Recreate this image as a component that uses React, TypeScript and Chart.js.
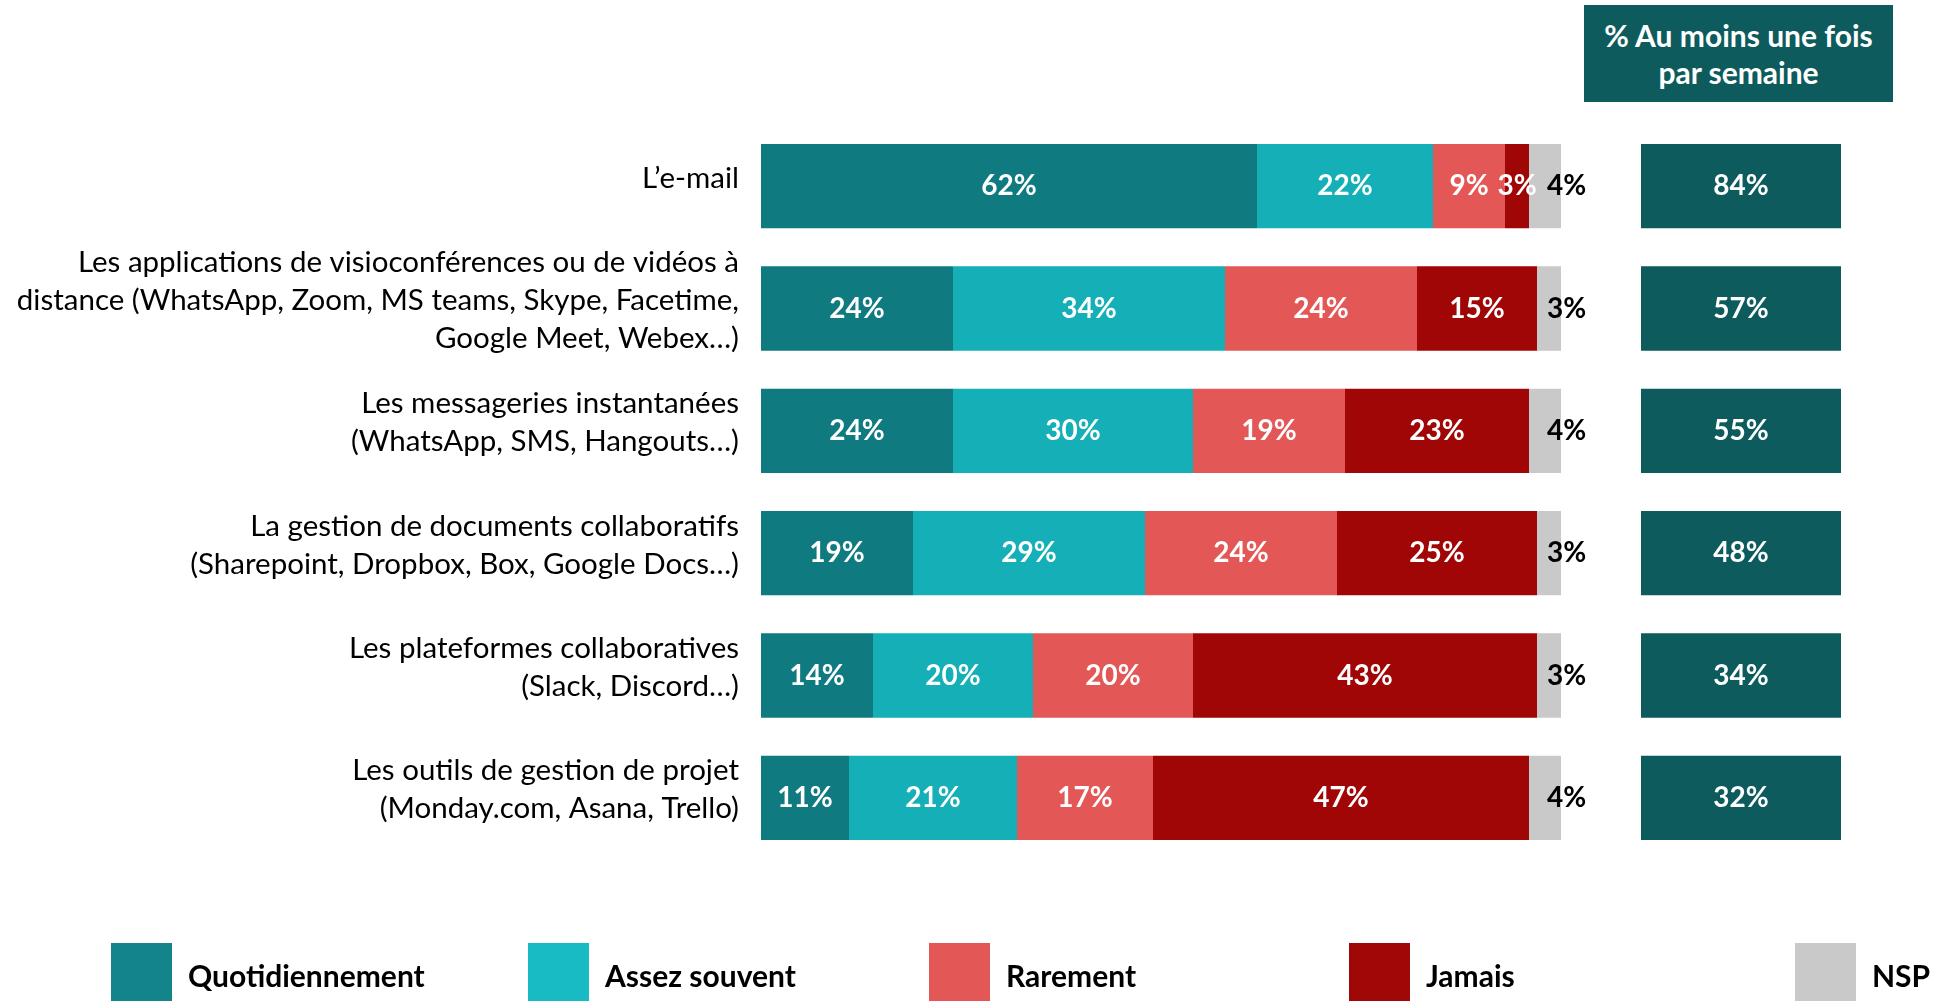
import React, { useEffect, useRef } from "react";
import { Chart, registerables } from "chart.js";

Chart.register(...registerables);

// ---------- data ----------
const CATEGORIES: string[][] = [
  ["L’e-mail"],
  [
    "Les applications de visioconférences ou de vidéos à",
    "distance (WhatsApp, Zoom, MS teams, Skype, Facetime,",
    "Google Meet, Webex…)",
  ],
  ["Les messageries instantanées", "(WhatsApp, SMS, Hangouts…)"],
  ["La gestion de documents collaboratifs", "(Sharepoint, Dropbox, Box, Google Docs…)"],
  ["Les plateformes collaboratives", "(Slack, Discord…)"],
  ["Les outils de gestion de projet", "(Monday.com, Asana, Trello)"],
];

const SERIES_NAMES = ["Quotidiennement", "Assez souvent", "Rarement", "Jamais", "NSP"];
const QUOTIDIENNEMENT = [62, 24, 24, 19, 14, 11];
const ASSEZ_SOUVENT = [22, 34, 30, 29, 20, 21];
const RAREMENT = [9, 24, 19, 24, 20, 17];
const JAMAIS = [3, 15, 23, 25, 43, 47];
const NSP = [4, 3, 4, 3, 3, 4];
const WEEKLY = [84, 57, 55, 48, 34, 32];
const WEEKLY_TITLE = ["% Au moins une fois", "par semaine"];

// ---------- styles ----------
const BAR_COLORS = ["#0F7A80", "#14AFB7", "#E45757", "#A00606", "#C9C9C9"];
const LEGEND_COLORS = ["#138489", "#18BBC4", "#E45757", "#A00707", "#C9C9C9"];
const WEEKLY_COLOR = "#0D5B5D";
const FONT = "Lato, 'Open Sans', sans-serif";
const WEEKLY_SPAN: [number, number] = [110, 135]; // layout slot for the right-hand column
const X_MAX = 135;

const LEGEND_X = [111, 528, 929, 1349, 1795];

export default function App() {
  const canvasRef = useRef<HTMLCanvasElement | null>(null);

  useEffect(() => {
    document.body.style.margin = "0";
    const canvas = canvasRef.current!;
    const seriesData = [QUOTIDIENNEMENT, ASSEZ_SOUVENT, RAREMENT, JAMAIS, NSP];

    const labelPlugin = {
      id: "barLabels",
      afterDatasetsDraw(chart: any) {
        const ctx = chart.ctx;
        ctx.save();
        ctx.textBaseline = "middle";
        ctx.font = `bold 28px ${FONT}`;
        chart.data.datasets.forEach((ds: any, di: number) => {
          const meta = chart.getDatasetMeta(di);
          meta.data.forEach((el: any, i: number) => {
            const y = el.y;
            if (ds.isWeekly) {
              ctx.fillStyle = "#FFFFFF";
              ctx.textAlign = "center";
              ctx.fillText(`${WEEKLY[i]}%`, (el.x + el.base) / 2, y);
              return;
            }
            const v = ds.data[i];
            if (di === 4) {
              ctx.fillStyle = "#000000";
              ctx.textAlign = "left";
              ctx.fillText(`${v}%`, Math.max(el.x, el.base) - 14, y);
            } else {
              ctx.fillStyle = "#FFFFFF";
              ctx.textAlign = "center";
              ctx.fillText(`${v}%`, (el.x + el.base) / 2, y);
            }
          });
        });
        ctx.restore();
      },
    };

    const datasets: any[] = seriesData.map((d, i) => ({
      label: SERIES_NAMES[i],
      data: d,
      backgroundColor: BAR_COLORS[i],
      borderWidth: 0,
      stack: "main",
      grouped: false,
      categoryPercentage: 1,
      barPercentage: 0.69,
    }));
    datasets.push({
      label: "weekly",
      isWeekly: true,
      data: WEEKLY.map(() => WEEKLY_SPAN),
      backgroundColor: WEEKLY_COLOR,
      borderWidth: 0,
      stack: "weekly",
      grouped: false,
      categoryPercentage: 1,
      barPercentage: 0.69,
    });

    const chart = new Chart(canvas, {
      type: "bar",
      data: { labels: CATEGORIES, datasets },
      options: {
        indexAxis: "y",
        responsive: false,
        animation: false,
        devicePixelRatio: 1,
        layout: { padding: { left: 0, right: 102, top: 125, bottom: 142 } },
        plugins: { legend: { display: false }, tooltip: { enabled: false } },
        scales: {
          x: {
            stacked: true,
            min: 0,
            max: X_MAX,
            display: false,
          },
          y: {
            stacked: true,
            grid: { display: false, drawTicks: false },
            border: { display: false },
            afterFit: (s: any) => {
              s.width = 761;
            },
            ticks: {
              padding: 22,
              labelOffset: -8,
              color: "#000000",
              font: { family: FONT, size: 29.5, lineHeight: 1.28 },
            },
          },
        },
      },
      plugins: [labelPlugin],
    });

    return () => chart.destroy();
  }, []);

  return (
    <div style={{ position: "fixed", left: 0, top: 0, width: 1943, height: 1001, overflow: "hidden", background: "#fff" }}>
      <canvas ref={canvasRef} width={1943} height={1001} style={{ position: "absolute", left: 0, top: 0, width: 1943, height: 1001 }} />
      <div
        style={{
          position: "absolute",
          left: 1584,
          top: 5,
          width: 309,
          height: 97,
          background: WEEKLY_COLOR,
          color: "#fff",
          fontFamily: FONT,
          fontWeight: 700,
          fontSize: 30,
          lineHeight: "37px",
          textAlign: "center",
          display: "flex",
          flexDirection: "column",
          justifyContent: "center",
        }}
      >
        {WEEKLY_TITLE.map((t) => (
          <div key={t}>{t}</div>
        ))}
      </div>
      {SERIES_NAMES.map((name, i) => (
        <div key={name}>
          <div
            style={{
              position: "absolute",
              left: LEGEND_X[i],
              top: 943,
              width: 61,
              height: 70,
              background: LEGEND_COLORS[i],
            }}
          />
          <div
            style={{
              position: "absolute",
              left: LEGEND_X[i] + 77,
              top: 955,
              height: 40,
              lineHeight: "40px",
              fontFamily: FONT,
              fontWeight: 700,
              fontSize: 30,
              color: "#000",
              whiteSpace: "nowrap",
            }}
          >
            {name}
          </div>
        </div>
      ))}
    </div>
  );
}
